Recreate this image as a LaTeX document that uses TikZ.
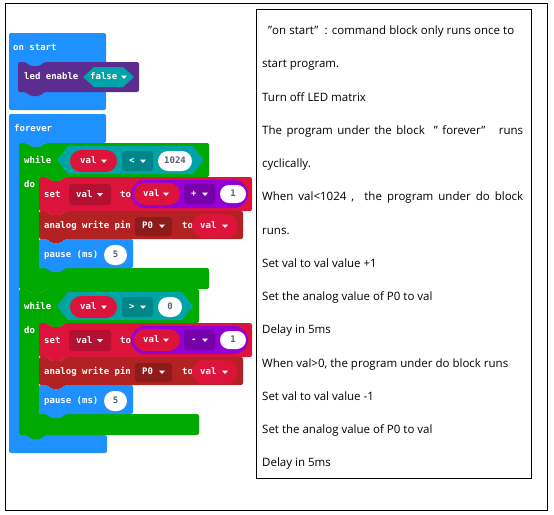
\documentclass[tikz,border=0pt]{standalone}
\usepackage{fontspec}
\setmainfont{Open Sans}
\newfontfamily\blockfont{DejaVu Sans Mono}
\usetikzlibrary{calc}

\definecolor{evblue}{HTML}{1E90FF}
\definecolor{ledpurple}{HTML}{5C2D91}
\definecolor{loopgreen}{HTML}{00AA00}
\definecolor{logicteal}{HTML}{00A4A6}
\definecolor{varred}{HTML}{DC143C}
\definecolor{mathpurple}{HTML}{9400D3}
\definecolor{pinred}{HTML}{B22222}
\definecolor{numgray}{HTML}{575E75}
\colorlet{varfield}{varred!82!black}
\colorlet{logicfield}{logicteal!82!black}
\colorlet{mathfield}{mathpurple!80!black}
\colorlet{pinfield}{pinred!80!black}

\tikzset{
  blocktext/.style={
    anchor=mid west,
    inner sep=0pt,
    text=white,
    font=\blockfont\bfseries\fontsize{9}{10}\selectfont
  },
  numtext/.style={
    anchor=mid,
    inner sep=0pt,
    text=numgray,
    font=\blockfont\bfseries\fontsize{9}{10}\selectfont
  },
  notetext/.style={
    anchor=mid west,
    inner sep=0pt,
    font=\fontsize{11.5}{13}\selectfont
  }
}

% statement block: colour, left, top, width, height
\newcommand{\stmtblock}[5]{%
  \fill[#1,rounded corners=2pt] (#2,#3) -- ++(8,0) -- ++(4,4) -- ++(10,0) -- ++(4,-4)
    -- ({#2+#4},#3) -- ({#2+#4},{#3+#5}) -- ({#2+26},{#3+#5})
    -- ++(-4,4) -- ++(-10,0) -- ++(-4,-4) -- (#2,{#3+#5}) -- cycle;}
% loop block: colour, left, top, header right, inner top, bar top, bar right, bottom
\newcommand{\loopblock}[8]{%
  \fill[#1,rounded corners=2pt] (#2,#3) -- ++(8,0) -- ++(4,4) -- ++(10,0) -- ++(4,-4)
    -- (#4,#3) -- (#4,#5) -- ({#2+46},#5) -- ++(-4,4) -- ++(-10,0) -- ++(-4,-4)
    -- ({#2+20},#5) -- ({#2+20},#6) -- (#7,#6) -- (#7,#8) -- ({#2+26},#8)
    -- ++(-4,4) -- ++(-10,0) -- ++(-4,-4) -- (#2,#8) -- cycle;}
% hexagon: colour, left, top, right, bottom
\newcommand{\hexfield}[5]{%
  \fill[#1] (#2,{(#3+#5)/2}) -- ({#2+11},#3) -- ({#4-11},#3) -- (#4,{(#3+#5)/2})
    -- ({#4-11},#5) -- ({#2+11},#5) -- cycle;}
% pill: colour, left, top, right, bottom
\newcommand{\pill}[5]{%
  \pgfmathsetmacro\pillrad{(#5-#3)/2}%
  \fill[#1,rounded corners=\pillrad pt] (#2,#3) rectangle (#4,#5);}
% dropdown arrow
\newcommand{\ddarrow}[2]{%
  \fill[white] ({#1-3},{#2-1.5}) -- ({#1+3},{#2-1.5}) -- (#1,{#2+2}) -- cycle;}

\begin{document}
\begin{tikzpicture}[x=1pt,y=-1pt]
    \useasboundingbox (0,0) rectangle (554,514);

    % frames
    \draw[line width=0.9pt] (5,3) rectangle (547,510);
    \draw[line width=0.9pt] (256,9) rectangle (531,478);

    % on start
    \fill[evblue,rounded corners=2pt] (9,33) rectangle (106,110);
    \node[blocktext] (onstart) at (13,48) {on start};
    \stmtblock{ledpurple}{18}{62}{121}{30}
    \node[blocktext] (ledenable) at (24,77) {led enable};
    \hexfield{logicteal}{83}{67}{134}{87}
    \node[blocktext] (ledfalse) at (90,77) {false};
    \ddarrow{124}{77}

    % forever
    \fill[evblue,rounded corners=2pt] (9,114) -- (106,114) -- (106,143) -- (45,143)
      -- ++(-4,4) -- ++(-10,0) -- ++(-4,-4) -- (19,143) -- (19,435) -- (107,435)
      -- (107,453) -- (9,453) -- cycle;
    \node[blocktext] (forever) at (14,129) {forever};

    % while loops
    \foreach \dy/\cmp/\lim/\hexr/\limr/\headr/\sign in
        {0/</1024/204/192/209/+, 146/>/0/193/182/199/-}{
      \begin{scope}[shift={(0,\dy)}]
        \loopblock{loopgreen}{19}{143}{\headr}{177}{268}{\headr}{289}
        \node[blocktext] (while\dy) at (24,161) {while};
        \node[blocktext] (do\dy) at (24,185) {do};
        \hexfield{logicteal}{57}{146}{\hexr}{174}
        \pill{varred}{70}{150}{117}{172}
        \node[blocktext] (cval\dy) at (80,161) {val};
        \ddarrow{104}{161}
        \fill[logicfield,rounded corners=3pt] (122,151) rectangle (153,171);
        \node[blocktext] (cmp\dy) at (129,161) {\cmp};
        \ddarrow{143}{161}
        \pill{white}{158}{151}{\limr}{171}
        \node[numtext] (lim\dy) at ({(158+\limr)/2},161) {\lim};

        % set val to val +/- 1
        \stmtblock{varred}{39}{177}{213}{34}
        \node[blocktext] (set\dy) at (44,195) {set};
        \fill[varfield,rounded corners=3pt] (69,184) rectangle (111,205);
        \node[blocktext] (setvar\dy) at (76,194.5) {val};
        \ddarrow{100}{194.5}
        \node[blocktext] (setto\dy) at (120,195) {to};
        \pill{mathpurple}{131}{180}{248}{208}
        \pill{varred}{134}{183}{180}{205}
        \node[blocktext] (opval\dy) at (143,194) {val};
        \ddarrow{166}{194}
        \fill[mathfield,rounded corners=3pt] (184,184) rectangle (215,204);
        \node[blocktext] (sign\dy) at (191,194) {\sign};
        \ddarrow{205}{194}
        \pill{white}{220}{185}{246}{203}
        \node[numtext] (one\dy) at (233,194) {1};

        % analog write pin
        \stmtblock{pinred}{39}{211}{204}{28}
        \node[blocktext] (analog\dy) at (44,226) {analog write pin};
        \fill[pinfield,rounded corners=3pt] (135,217) rectangle (172,236);
        \node[blocktext] (pin\dy) at (142,226) {P0};
        \ddarrow{162}{226}
        \node[blocktext] (pinto\dy) at (182,226) {to};
        \pill{varred}{192}{214}{238}{238}
        \node[blocktext] (pinval\dy) at (200,226) {val};
        \ddarrow{225}{226}

        % pause
        \stmtblock{evblue}{39}{239}{94}{29}
        \node[blocktext] (pause\dy) at (44,255) {pause (ms)};
        \pill{white}{104}{245}{127}{265}
        \node[numtext] (ms\dy) at (115.5,255) {5};
      \end{scope}
    }

    % notes
    \node[notetext] (note1) at (268,32)
      {\makebox[246pt][s]{"on start" \ : command block only runs once to}};
    \node[notetext] (note2) at (262,65.25) {start program.};
    \node[notetext] (note3) at (262,98.5) {Turn off LED matrix};
    \node[notetext] (note4) at (262,131.75)
      {\makebox[261pt][s]{The program under the block \ "\ forever" \ \ runs}};
    \node[notetext] (note5) at (262,165) {cyclically.};
    \node[notetext] (note6) at (262,198.25)
      {\makebox[261pt][s]{When val<1024 ,\ \ the program under do block}};
    \node[notetext] (note7) at (262,231.5) {runs.};
    \node[notetext] (note8) at (262,264.75) {Set val to val value +1};
    \node[notetext] (note9) at (262,298) {Set the analog value of P0 to val};
    \node[notetext] (note10) at (262,331.25) {Delay in 5ms};
    \node[notetext] (note11) at (262,364.5) {When val>0, the program under do block runs};
    \node[notetext] (note12) at (262,397.75) {Set val to val value -1};
    \node[notetext] (note13) at (262,431) {Set the analog value of P0 to val};
    \node[notetext] (note14) at (262,464.25) {Delay in 5ms};
\end{tikzpicture}
\end{document}
